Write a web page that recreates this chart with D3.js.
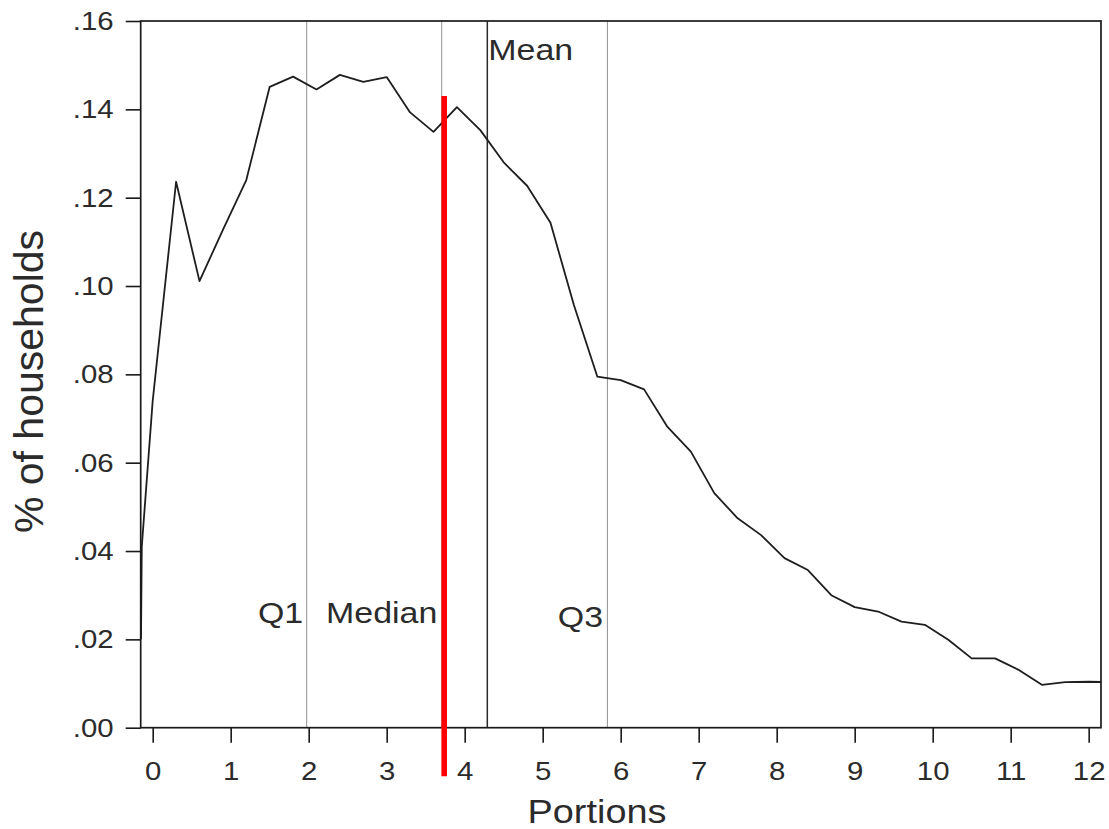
<!DOCTYPE html>
<html>
<head>
<meta charset="utf-8">
<script src="https://cdn.jsdelivr.net/npm/d3@7"></script>
<style>
  html, body { margin: 0; padding: 0; background: #fff; }
  svg { display: block; }
  text { font-family: "Liberation Sans", Arial, sans-serif; fill: #2b2b2b; }
</style>
</head>
<body>
<svg id="chart" width="1109" height="829"></svg>
<script>
// ---- data ----
const portions = [-0.15, -0.14, 0, 0.3, 0.6, 0.9, 1.2, 1.5, 1.8, 2.1, 2.4, 2.7, 3.0, 3.3, 3.6, 3.9,
  4.2, 4.5, 4.8, 5.1, 5.4, 5.7, 6.0, 6.3, 6.6, 6.9, 7.2, 7.5, 7.8, 8.1, 8.4, 8.7, 9.0, 9.3,
  9.6, 9.9, 10.2, 10.5, 10.8, 11.1, 11.4, 11.7, 12.0, 12.3];
const shareHouseholds = [0.020, 0.041, 0.074, 0.1236, 0.1011, 0.1127, 0.1240, 0.1451, 0.1474, 0.1445,
  0.1478, 0.1462, 0.1473, 0.1393, 0.1349, 0.1405, 0.1353, 0.1280, 0.1227, 0.1143, 0.0957,
  0.0795, 0.0787, 0.0766, 0.0681, 0.0625, 0.0531, 0.0474, 0.0436, 0.0384, 0.0357, 0.0300,
  0.0273, 0.0263, 0.0240, 0.0233, 0.0199, 0.0157, 0.0157, 0.0131, 0.0097, 0.0103, 0.0104, 0.0103];
const markerNames = ["Q1", "Median", "Mean", "Q3"];
const markerValues = [1.974, 3.705, 4.29, 5.83];
const xTickValues = [0, 1, 2, 3, 4, 5, 6, 7, 8, 9, 10, 11, 12];
const yTickValues = [0, 0.02, 0.04, 0.06, 0.08, 0.10, 0.12, 0.14, 0.16];
const yTickLabels = [".00", ".02", ".04", ".06", ".08", ".10", ".12", ".14", ".16"];
const redMarkX = [3.737];
const redMarkY = [-0.011, 0.143];

// ---- layout ----
const W = 1109, H = 829;
const margin = { left: 140.7, top: 21, right: 8, bottom: 101.3 };
const iw = W - margin.left - margin.right;
const ih = H - margin.top - margin.bottom;
const STRETCH = 1.13;

const svg = d3.select("#chart");
const g = svg.append("g").attr("transform", `translate(${margin.left},${margin.top})`);

const x = d3.scaleLinear().domain([-0.1538, 12.158]).range([0, iw]);
const y = d3.scaleLinear().domain([0, 0.16]).range([ih, 0]);

function stretch(sel, f) {
  sel.each(function () {
    const w = this.getComputedTextLength();
    d3.select(this).attr("textLength", w * f).attr("lengthAdjust", "spacingAndGlyphs");
  });
}

// clip
svg.append("defs").append("clipPath").attr("id", "plotclip")
  .append("rect").attr("width", iw).attr("height", ih);

// marker vertical lines
const markers = markerNames.map((n, i) => ({ name: n, v: markerValues[i] }));
g.selectAll("line.marker").data(markers).join("line")
  .attr("class", "marker")
  .attr("x1", d => x(d.v)).attr("x2", d => x(d.v))
  .attr("y1", 0).attr("y2", ih)
  .attr("stroke", d => d.name === "Mean" ? "#2a2a2a" : "#9a9a9a")
  .attr("stroke-width", d => d.name === "Mean" ? 1.5 : 1.1);

// curve
const pts = portions.map((p, i) => [p, shareHouseholds[i]]);
g.append("path")
  .datum(pts)
  .attr("clip-path", "url(#plotclip)")
  .attr("fill", "none")
  .attr("stroke", "#1e1e1e")
  .attr("stroke-width", 1.8)
  .attr("stroke-linejoin", "round")
  .attr("d", d3.line().x(d => x(d[0])).y(d => y(d[1])));

// marker labels
const labelPos = { "Q1": { anchor: "end", dx: -3.5, y: 622.7 }, "Median": { anchor: "end", dx: -4.4, y: 622.7 },
                   "Mean": { anchor: "start", dx: 1, y: 60 }, "Q3": { anchor: "end", dx: -4.4, y: 626.7 } };
const lbl = g.selectAll("text.mlabel").data(markers).join("text")
  .attr("class", "mlabel")
  .attr("x", d => x(d.v) + labelPos[d.name].dx)
  .attr("y", d => labelPos[d.name].y - margin.top)
  .attr("text-anchor", d => labelPos[d.name].anchor)
  .attr("font-size", 30)
  .text(d => d.name);
stretch(lbl, STRETCH);

// frame
g.append("rect").attr("width", iw).attr("height", ih)
  .attr("fill", "none").attr("stroke", "#1a1a1a").attr("stroke-width", 1.7);

// axes
const xAxis = g.append("g").attr("transform", `translate(0,${ih})`)
  .call(d3.axisBottom(x).tickValues(xTickValues).tickFormat(d3.format("d")).tickSize(15).tickPadding(19));
const yAxis = g.append("g")
  .call(d3.axisLeft(y).tickValues(yTickValues).tickFormat((d, i) => yTickLabels[i]).tickSize(15).tickPadding(12));
[xAxis, yAxis].forEach(a => {
  a.select(".domain").remove();
  a.selectAll(".tick line").attr("stroke", "#1a1a1a").attr("stroke-width", 1.6);
  a.selectAll(".tick text").attr("font-size", 26).attr("fill", "#2b2b2b")
    .attr("font-family", "'Liberation Sans', Arial, sans-serif");
  stretch(a.selectAll(".tick text"), STRETCH);
});

// axis titles
const xt = svg.append("text")
  .attr("x", 597).attr("y", 823.3)
  .attr("text-anchor", "middle").attr("font-size", 33.5)
  .text("Portions");
stretch(xt, STRETCH);

svg.append("text")
  .attr("transform", "translate(43,381.5) rotate(-90)")
  .attr("text-anchor", "middle").attr("font-size", 41)
  .text("% of households");

// red annotation mark
g.append("line")
  .datum(redMarkX[0])
  .attr("x1", d => x(d)).attr("x2", d => x(d))
  .attr("y1", y(redMarkY[0])).attr("y2", y(redMarkY[1]))
  .attr("stroke", "#ff0000").attr("stroke-width", 5.6);
</script>
</body>
</html>
